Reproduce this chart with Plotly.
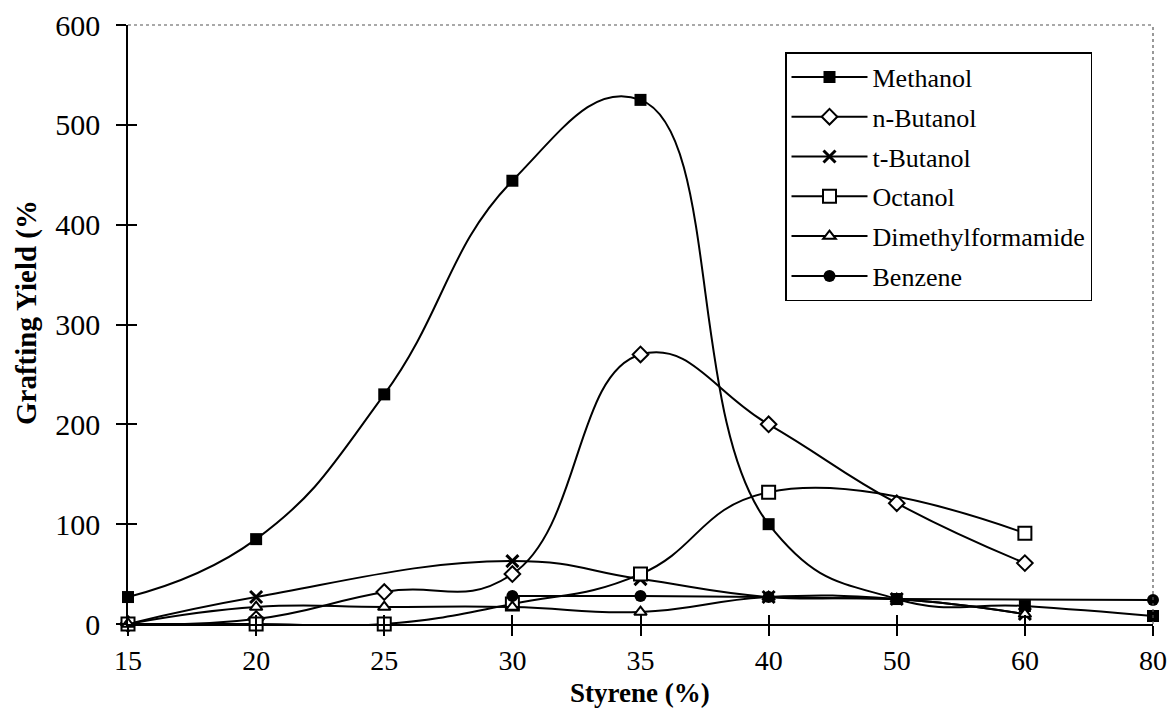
import plotly.graph_objects as go

styrene = ["15", "20", "25", "30", "35", "40", "50", "60", "80"]
methanol = [27, 85, 230, 444, 525, 100, 25, 18, 8]
n_butanol = [0, 5, 32, 50, 270, 200, 121, 61, None]
t_butanol = [0, 27, None, 63, 45, 27, 25, 10, None]
octanol = [0, 0, 0, 20, 50, 132, None, 91, None]
dmf = [0, 17, 17, 17, 12, 27, 25, 10, None]
benzene = [None, None, None, 28, 28, 27, 25, None, 24]
y_ticks = [0, 100, 200, 300, 400, 500, 600]

FONT = "Liberation Serif"

series = [
    ("Methanol", methanol, dict(symbol="square", size=12, color="black")),
    ("n-Butanol", n_butanol, dict(symbol="diamond", size=12, color="white", line=dict(color="black", width=2))),
    ("t-Butanol", t_butanol, dict(symbol="x-thin", size=12, color="black", line=dict(color="black", width=3))),
    ("Octanol", octanol, dict(symbol="square", size=13, color="white", line=dict(color="black", width=2))),
    ("Dimethylformamide", dmf, dict(symbol="triangle-up", size=11, color="white", line=dict(color="black", width=2))),
    ("Benzene", benzene, dict(symbol="circle", size=12, color="black")),
]

fig = go.Figure()
for name, vals, mk in series:
    fig.add_trace(go.Scatter(
        x=styrene, y=vals, name=name, mode="lines+markers",
        line=dict(color="black", width=2, shape="spline", smoothing=1.3),
        marker=mk, connectgaps=True, cliponaxis=False, legendgroup=name,
    ))

# helper (invisible) trace for the inner half of the crossing tick marks
fig.add_trace(go.Scatter(x=[0], y=[0], xaxis="x2", yaxis="y2", mode="markers",
                         marker=dict(opacity=0), showlegend=False, hoverinfo="skip"))

W, H = 1171, 713
L, R, T, B = 128, 18, 25, 89
pw = W - L - R
ph = H - T - B
px0 = L
py1 = H - B

def xp(px):
    return (px - px0) / pw

def yp(py):
    return (py1 - py) / ph

fig.update_layout(
    width=W, height=H,
    margin=dict(l=L, r=R, t=T, b=B, autoexpand=False),
    plot_bgcolor="white", paper_bgcolor="white",
    font=dict(family=FONT, color="black", size=26),
    showlegend=True,
    legend=dict(
        x=xp(785), y=yp(52), xanchor="left", yanchor="top",
        bordercolor="black", borderwidth=1.5, bgcolor="white",
        font=dict(family=FONT, size=26, color="black"),
        tracegroupgap=3, itemwidth=76,
    ),
    xaxis=dict(
        type="category", categoryorder="array", categoryarray=styrene,
        range=[0, len(styrene) - 1], automargin=False,
        showline=True, linecolor="black", linewidth=1.5,
        ticks="outside", ticklen=10, tickwidth=1.5, tickcolor="black",
        showgrid=False, zeroline=False, ticklabelstandoff=1,
        tickfont=dict(size=28, family=FONT),
    ),
    yaxis=dict(
        range=[0, 600], tickvals=y_ticks, automargin=False,
        showline=True, linecolor="black", linewidth=1.5,
        ticks="outside", ticklen=10, tickwidth=1.5, tickcolor="black",
        showgrid=False, zeroline=False, ticklabelstandoff=10,
        tickfont=dict(size=30, family=FONT),
    ),
    xaxis2=dict(overlaying="x", anchor="y", range=[0, len(styrene) - 1], automargin=False,
                tickvals=list(range(len(styrene))), ticks="inside", ticklen=9,
                tickwidth=1.5, tickcolor="black", showticklabels=False,
                showgrid=False, zeroline=False, showline=False),
    yaxis2=dict(overlaying="y", anchor="x", range=[0, 600], tickvals=y_ticks, automargin=False,
                ticks="inside", ticklen=9, tickwidth=1.5, tickcolor="black",
                showticklabels=False, showgrid=False, zeroline=False, showline=False),
    shapes=[
        dict(type="line", xref="paper", yref="paper", x0=0, x1=1, y0=1, y1=1,
             line=dict(color="#555555", width=1.2, dash="dot")),
        dict(type="line", xref="paper", yref="paper", x0=1, x1=1, y0=0, y1=1,
             line=dict(color="#555555", width=1.2, dash="dot")),
    ],
    annotations=[
        dict(text="<b>Grafting Yield (%</b>", xref="paper", yref="paper",
             x=xp(26), y=yp(313), textangle=-90,
             showarrow=False, font=dict(size=29, family=FONT),
             xanchor="center", yanchor="middle"),
        dict(text="<b>Styrene (%)</b>", xref="paper", yref="paper",
             x=xp(640), y=yp(693),
             showarrow=False, font=dict(size=27, family=FONT),
             xanchor="center", yanchor="middle"),
    ],
)

fig.write_html("out.html", config=dict(displayModeBar=False),
               post_script="document.body.style.margin='0';document.body.style.overflow='hidden';")
